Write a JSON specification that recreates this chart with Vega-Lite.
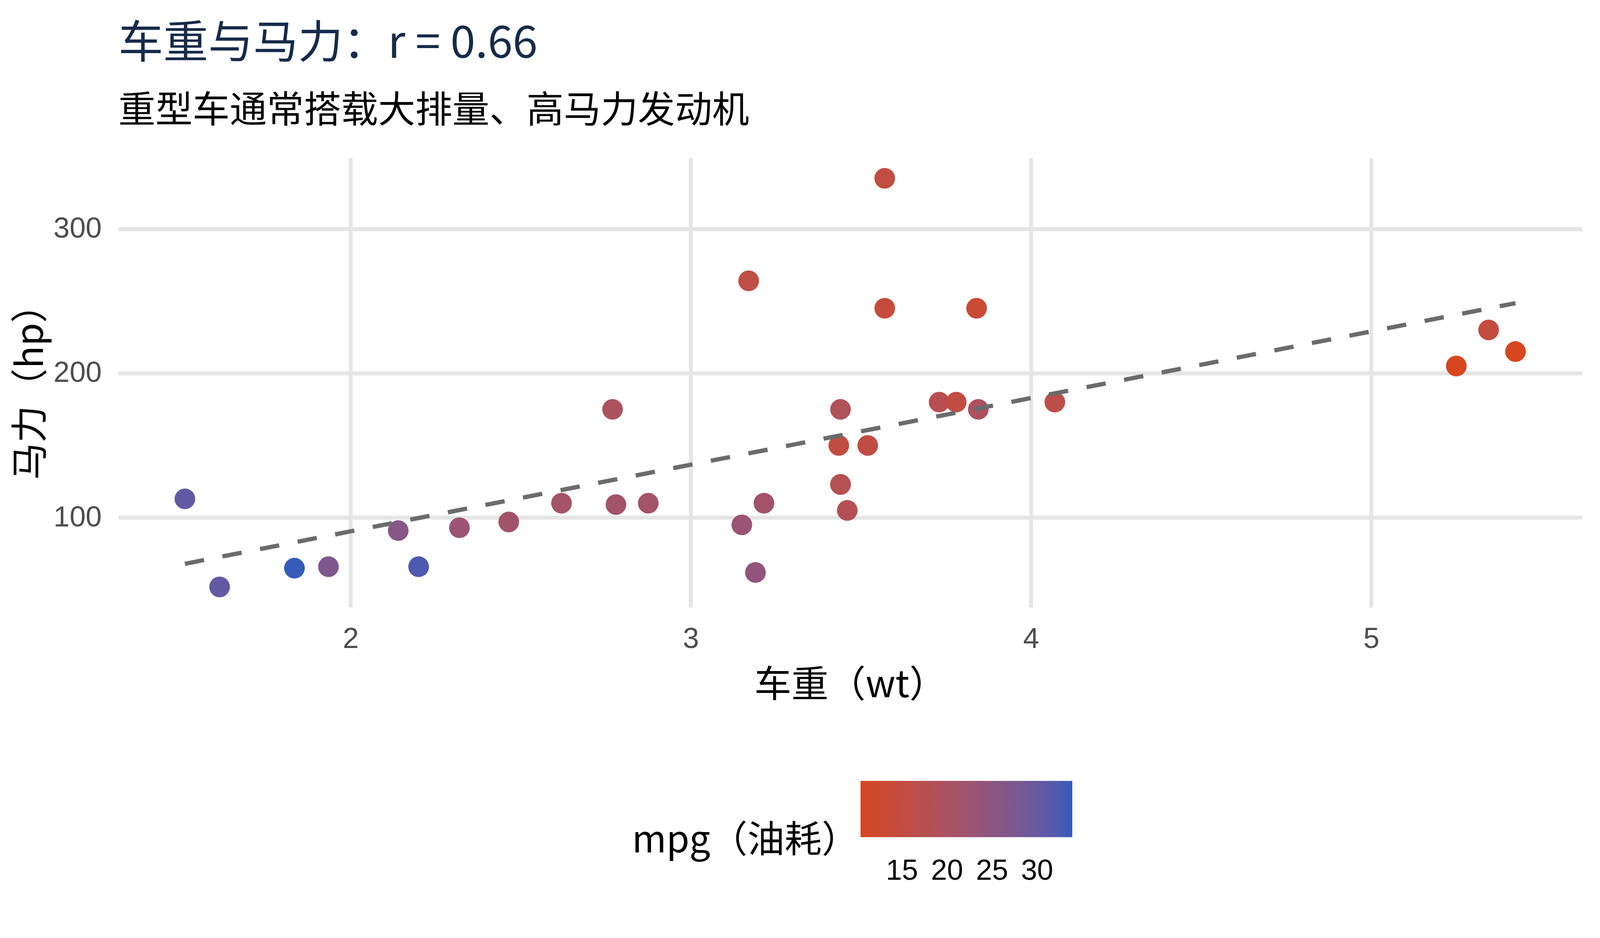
{
  "$schema": "https://vega.github.io/schema/vega-lite/v6.json",
  "autosize": "none",
  "width": 3747,
  "height": 1150,
  "padding": {"left": 303, "top": 404, "right": 46, "bottom": 846},
  "background": "white",
  "title": {
    "text": "车重与马力：r = 0.66",
    "subtitle": "重型车通常搭载大排量、高马力发动机",
    "anchor": "start",
    "frame": "group",
    "font": "Noto Sans CJK SC",
    "fontSize": 115,
    "fontWeight": "normal",
    "color": "#172b4a",
    "subtitleFont": "Noto Sans CJK SC",
    "subtitleFontSize": 95,
    "subtitleColor": "#000000",
    "subtitlePadding": 67,
    "offset": 70
  },
  "datasets": {
    "cars": [
      {"model": "Mazda RX4", "wt": 2.62, "hp": 110, "mpg": 21.0},
      {"model": "Mazda RX4 Wag", "wt": 2.875, "hp": 110, "mpg": 21.0},
      {"model": "Datsun 710", "wt": 2.32, "hp": 93, "mpg": 22.8},
      {"model": "Hornet 4 Drive", "wt": 3.215, "hp": 110, "mpg": 21.4},
      {"model": "Hornet Sportabout", "wt": 3.44, "hp": 175, "mpg": 18.7},
      {"model": "Valiant", "wt": 3.46, "hp": 105, "mpg": 18.1},
      {"model": "Duster 360", "wt": 3.57, "hp": 245, "mpg": 14.3},
      {"model": "Merc 240D", "wt": 3.19, "hp": 62, "mpg": 24.4},
      {"model": "Merc 230", "wt": 3.15, "hp": 95, "mpg": 22.8},
      {"model": "Merc 280", "wt": 3.44, "hp": 123, "mpg": 19.2},
      {"model": "Merc 280C", "wt": 3.44, "hp": 123, "mpg": 17.8},
      {"model": "Merc 450SE", "wt": 4.07, "hp": 180, "mpg": 16.4},
      {"model": "Merc 450SL", "wt": 3.73, "hp": 180, "mpg": 17.3},
      {"model": "Merc 450SLC", "wt": 3.78, "hp": 180, "mpg": 15.2},
      {"model": "Cadillac Fleetwood", "wt": 5.25, "hp": 205, "mpg": 10.4},
      {"model": "Lincoln Continental", "wt": 5.424, "hp": 215, "mpg": 10.4},
      {"model": "Chrysler Imperial", "wt": 5.345, "hp": 230, "mpg": 14.7},
      {"model": "Fiat 128", "wt": 2.2, "hp": 66, "mpg": 32.4},
      {"model": "Honda Civic", "wt": 1.615, "hp": 52, "mpg": 30.4},
      {"model": "Toyota Corolla", "wt": 1.835, "hp": 65, "mpg": 33.9},
      {"model": "Toyota Corona", "wt": 2.465, "hp": 97, "mpg": 21.5},
      {"model": "Dodge Challenger", "wt": 3.52, "hp": 150, "mpg": 15.5},
      {"model": "AMC Javelin", "wt": 3.435, "hp": 150, "mpg": 15.2},
      {"model": "Camaro Z28", "wt": 3.84, "hp": 245, "mpg": 13.3},
      {"model": "Pontiac Firebird", "wt": 3.845, "hp": 175, "mpg": 19.2},
      {"model": "Fiat X1-9", "wt": 1.935, "hp": 66, "mpg": 27.3},
      {"model": "Porsche 914-2", "wt": 2.14, "hp": 91, "mpg": 26.0},
      {"model": "Lotus Europa", "wt": 1.513, "hp": 113, "mpg": 30.4},
      {"model": "Ford Pantera L", "wt": 3.17, "hp": 264, "mpg": 15.8},
      {"model": "Ferrari Dino", "wt": 2.77, "hp": 175, "mpg": 19.7},
      {"model": "Maserati Bora", "wt": 3.57, "hp": 335, "mpg": 15.0},
      {"model": "Volvo 142E", "wt": 2.78, "hp": 109, "mpg": 21.4}
    ],
    "fit": [
      {"wt": 1.513, "hp": 68.02},
      {"wt": 5.424, "hp": 248.55}
    ]
  },
  "layer": [
    {
      "data": {"name": "cars"},
      "mark": {"type": "circle", "size": 2800, "opacity": 1},
      "encoding": {
        "x": {
          "field": "wt",
          "type": "quantitative",
          "scale": {"domain": [1.31745, 5.61955], "nice": false, "zero": false},
          "axis": {
            "title": "车重（wt）",
            "values": [2, 3, 4, 5],
            "format": "d",
            "labelPadding": 45,
            "titlePadding": 36
          }
        },
        "y": {
          "field": "hp",
          "type": "quantitative",
          "scale": {"domain": [37.85, 349.15], "nice": false, "zero": false},
          "axis": {
            "title": "马力（hp）",
            "values": [100, 200, 300],
            "format": "d",
            "labelPadding": 43,
            "titlePadding": 7
          }
        },
        "color": {
          "field": "mpg",
          "type": "quantitative",
          "scale": {
            "domain": [10.4, 33.9],
            "range": ["#d6461f", "#355bb9"],
            "interpolate": "lab"
          },
          "legend": {
            "orient": "none",
            "direction": "horizontal",
            "legendX": 1315,
            "legendY": 1594,
            "title": "mpg（油耗）",
            "titleOrient": "left",
            "titleAnchor": "middle",
            "titleBaseline": "line-top",
            "titleLineHeight": 167,
            "titlePadding": 4,
            "values": [15, 20, 25, 30],
            "gradientLength": 542,
            "gradientThickness": 144,
            "labelOffset": 51
          }
        }
      }
    },
    {
      "data": {"name": "fit"},
      "mark": {
        "type": "line",
        "color": "#6b6b6b",
        "strokeWidth": 11,
        "strokeDash": [50, 48]
      },
      "encoding": {
        "x": {"field": "wt", "type": "quantitative"},
        "y": {"field": "hp", "type": "quantitative"}
      }
    }
  ],
  "config": {
    "view": {"stroke": null},
    "axis": {
      "grid": true,
      "gridColor": "#e5e5e5",
      "gridWidth": 10,
      "domain": false,
      "ticks": false,
      "tickSize": 0,
      "labelFont": "Liberation Sans",
      "labelFontSize": 74,
      "labelColor": "#4d4d4d",
      "labelFlush": false,
      "labelOverlap": false,
      "titleFont": "Noto Sans CJK SC",
      "titleFontSize": 95,
      "titleFontWeight": "normal",
      "titleColor": "#000000"
    },
    "legend": {
      "padding": 0,
      "gradientStrokeWidth": 0,
      "labelFont": "Liberation Sans",
      "labelFontSize": 74,
      "labelColor": "#000000",
      "titleFont": "Noto Sans CJK SC",
      "titleFontSize": 95,
      "titleFontWeight": "normal",
      "titleColor": "#000000",
      "titleLimit": 2000
    }
  }
}
